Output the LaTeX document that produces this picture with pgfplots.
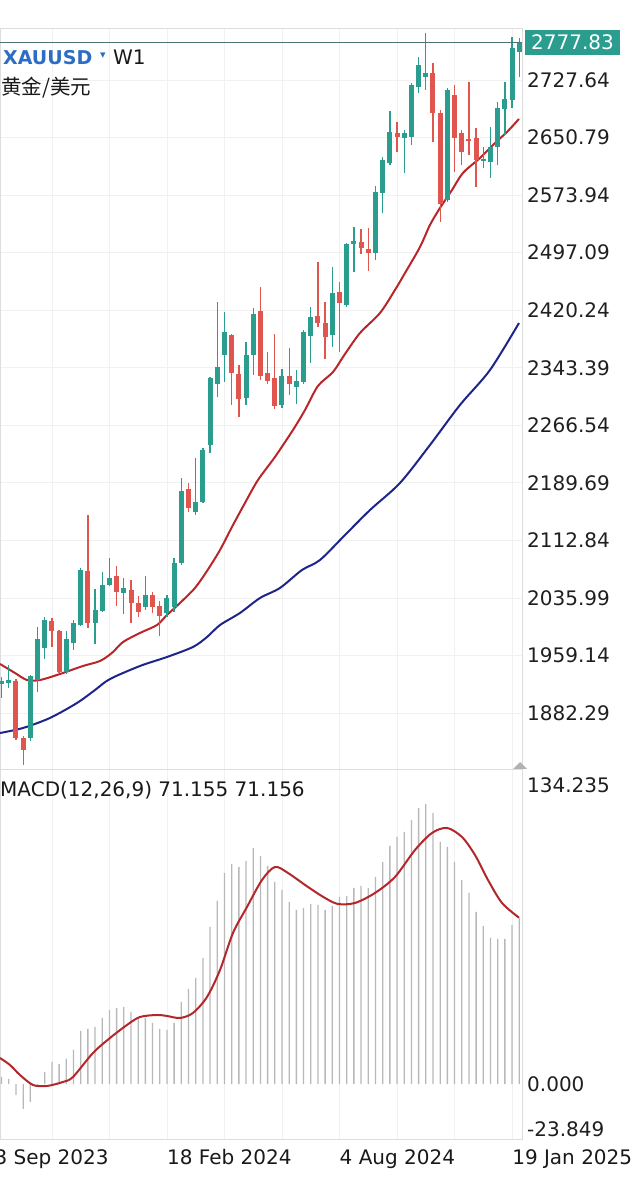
\documentclass[border=0pt]{standalone}
\usepackage{pgfplots}
\pgfplotsset{compat=1.18}
\usepackage{pgfplotstable}
\usepackage{fontspec}
\setmainfont{DejaVu Sans}
\newfontfamily\cjk{Noto Sans CJK SC}
\definecolor{bull}{HTML}{2B9D8F}
\definecolor{bear}{HTML}{E0554D}
\definecolor{maRed}{HTML}{B8262A}
\definecolor{maBlue}{HTML}{1D2688}
\definecolor{sig}{HTML}{B3262A}
\definecolor{hist}{HTML}{B8B8B8}
\definecolor{pline}{HTML}{4A7573}
\definecolor{sym}{HTML}{2B6CC4}
\definecolor{frame}{HTML}{DDDDDD}
\definecolor{gridc}{HTML}{F1F1F1}

% weekly candles, x = week index (0 = 10 Sep 2023)
\pgfplotstableread{
x o h l c
0 1921.1 1930.4 1902.4 1925.1
1 1922.4 1946.4 1915.7 1926.4
4 1848.9 1933.1 1844.9 1931.7
5 1926.4 1997.2 1910.4 1981.2
6 1969.1 2010.5 1954.4 2006.5
9 1937.1 1991.8 1934.4 1981.2
10 1975.8 2006.5 1966.5 2002.5
11 1999.8 2076.0 1998.5 2073.3
13 2002.5 2047.9 1974.5 2019.9
14 2018.5 2070.6 2017.2 2053.3
15 2053.3 2089.3 2051.9 2062.6
17 2042.6 2062.6 2014.5 2049.3
20 2023.9 2065.3 2019.9 2039.9
23 2015.9 2039.9 2010.5 2035.9
24 2023.9 2089.3 2017.2 2082.6
25 2082.6 2196.2 2080.0 2178.8
27 2150.8 2222.9 2146.7 2164.1
28 2164.1 2236.2 2162.8 2233.5
29 2240.2 2331.0 2229.5 2329.7
30 2321.7 2431.2 2304.3 2344.4
31 2360.4 2417.8 2324.4 2391.1
34 2303.0 2377.8 2293.6 2360.4
35 2360.4 2423.2 2333.7 2415.2
39 2293.6 2341.7 2289.6 2332.4
41 2317.7 2340.4 2295.0 2325.7
42 2324.4 2393.8 2321.7 2391.1
43 2385.8 2424.5 2349.7 2411.2
46 2387.1 2477.9 2371.1 2443.2
48 2427.2 2510.0 2424.5 2508.6
49 2508.6 2531.3 2471.2 2512.6
52 2496.6 2586.1 2487.3 2578.1
53 2576.7 2624.8 2550.0 2620.8
54 2616.8 2686.2 2614.1 2658.2
56 2650.2 2660.9 2603.5 2656.9
57 2651.5 2723.6 2640.8 2721.0
58 2718.3 2758.4 2710.3 2747.7
59 2731.6 2790.4 2714.3 2737.0
62 2567.4 2717.0 2564.7 2714.3
67 2619.5 2638.2 2610.1 2622.1
68 2618.1 2664.9 2596.8 2638.2
69 2638.2 2698.3 2614.1 2690.3
70 2688.9 2725.0 2654.2 2702.3
71 2700.9 2785.1 2690.3 2770.4
72 2765.0 2783.7 2731.6 2777.83
}\bulltab

\pgfplotstableread{
x o h l c
2 1925.1 1927.7 1846.3 1848.9
3 1848.9 1851.6 1812.9 1832.9
7 2005.2 2009.2 1970.5 1991.8
8 1991.8 1993.2 1935.8 1937.1
12 2072.0 2146.7 1995.8 2002.5
16 2065.3 2078.6 2025.2 2043.9
18 2046.6 2059.9 2002.5 2029.2
19 2029.2 2038.6 2010.5 2017.2
21 2039.9 2043.9 2015.9 2023.9
22 2025.2 2031.9 1985.2 2011.9
26 2181.5 2189.5 2150.8 2156.1
32 2387.1 2388.5 2293.6 2336.4
33 2335.0 2347.1 2277.6 2301.7
36 2419.2 2451.2 2327.0 2332.4
37 2336.4 2364.4 2321.7 2325.7
38 2329.7 2388.5 2288.3 2292.3
40 2332.4 2369.8 2307.0 2321.7
44 2412.5 2484.6 2397.8 2403.1
45 2403.1 2431.2 2355.1 2384.4
47 2444.5 2457.9 2364.4 2429.8
50 2511.3 2528.7 2495.3 2503.3
51 2502.0 2530.0 2472.6 2496.6
55 2656.9 2671.6 2631.5 2651.5
60 2737.0 2750.3 2644.8 2683.6
61 2683.6 2687.6 2538.0 2562.1
63 2707.6 2721.0 2604.8 2650.2
64 2656.9 2660.9 2614.1 2631.5
65 2648.9 2725.0 2627.5 2646.2
66 2650.2 2663.5 2584.8 2620.8
}\beartab

\pgfplotstableread{
x y
-0.22 1947.8
1.86 1935.8
3.53 1926.4
5.34 1926.4
8.12 1934.4
11.32 1945.1
13.69 1951.8
15.40 1963.0
16.89 1977.1
19.25 1989.2
21.61 1999.8
23.0 2013.2
24.81 2029.2
26.90 2049.3
28.57 2072.0
30.38 2100.0
32.04 2130.7
33.85 2162.8
35.66 2193.5
38.02 2224.2
40.53 2260.3
42.20 2287.0
44.0 2319.0
46.09 2337.7
47.76 2361.7
49.85 2389.8
52.63 2416.5
54.71 2447.2
56.11 2469.9
58.19 2504.6
59.58 2534.0
60.97 2556.7
62.64 2580.7
64.17 2603.5
66.54 2623.5
68.62 2643.5
70.29 2658.2
71.96 2675.6
}\maredtab

\pgfplotstableread{
x y
-0.22 1855.6
2.98 1862.3
6.73 1875.7
10.49 1895.7
12.99 1913.0
15.08 1927.7
19.25 1945.1
23.0 1957.1
26.62 1970.5
28.57 1983.8
30.38 1999.8
33.16 2015.9
35.94 2035.9
38.72 2049.3
41.78 2073.3
44.28 2086.6
47.76 2120.0
51.24 2153.4
55.41 2189.5
59.58 2240.2
63.75 2293.6
67.93 2340.4
71.96 2403.1
}\mabluetab

\pgfplotstableread{
x v
0 3.08
1 2.22
2 -4.61
3 -10.60
4 -7.61
5 -1.0
6 5.21
7 9.48
8 8.63
9 10.77
10 14.61
11 22.73
12 23.58
13 24.44
14 28.28
15 31.70
16 32.56
17 32.98
18 30.85
19 28.71
20 28.28
21 26.15
22 23.58
23 23.16
24 26.15
25 35.12
26 40.68
27 45.37
28 53.92
29 67.16
30 78.27
31 90.24
32 94.08
33 92.80
34 95.36
35 100.92
36 97.50
37 93.23
38 86.39
39 82.97
40 77.85
41 74.43
42 75.28
43 76.99
44 76.56
45 74.43
46 76.14
47 79.98
48 80.41
49 83.83
50 84.68
51 83.83
52 88.53
53 94.94
54 101.77
55 105.62
56 107.76
57 112.88
58 118.01
59 119.72
60 115.88
61 103.48
62 101.35
63 94.94
64 87.25
65 81.69
66 73.57
67 67.59
68 62.46
69 62.04
70 62.04
71 68.02
72 71.155
}\histtab

\pgfplotstableread{
x y
-0.22 11.19
1.17 8.20
2.56 3.93
4.37 -0.34
6.31 -0.77
8.54 0.94
9.93 3.08
12.71 13.33
15.08 19.74
17.44 25.30
19.25 28.71
21.61 29.57
23.0 29.14
24.81 28.28
26.62 30.42
28.57 37.26
30.38 48.79
32.18 64.60
34.13 75.71
36.22 87.25
38.02 92.80
39.83 90.24
42.61 84.26
44.98 79.56
46.79 76.99
49.15 77.42
51.93 81.69
54.71 88.53
57.50 100.07
59.86 107.33
61.95 109.47
64.03 105.62
65.84 97.93
67.65 87.25
69.60 77.42
71.96 71.156
}\sigtab

\pgfplotsset{
  chartbase/.style={
    scale only axis, width=522pt, xmin=-0.22, xmax=72.38,
    axis line style={draw=frame, line width=1pt},
    xtick={7,15,...,71}, xticklabels={{},{},{},{},{},{},{},{},{}},
    tick style={draw=none},
    yticklabel pos=right,
    yticklabel style={anchor=west, inner sep=0pt, xshift=5pt,
      font=\fontsize{20}{24}\selectfont, text=black!88},
    major grid style={draw=gridc, line width=0.8pt},
  },
  wick/.style={draw=none, error bars/.cd, y dir=both, y explicit, error mark=none,
    error bar style={draw=#1, line width=1.3pt}},
  body/.style={draw=none, error bars/.cd, y dir=both, y explicit, error mark=none,
    error bar style={draw=#1, line width=5pt}},
}

\begin{document}
\begin{tikzpicture}
% ---------------- price panel ----------------
\begin{axis}[chartbase, at={(0pt,414pt)}, anchor=south west, height=741pt,
  ymin=1806.21, ymax=2795.74, grid=major,
  ytick={1882.29,1959.14,2035.99,2112.84,2189.69,2266.54,2343.39,2420.24,2497.09,2573.94,2650.79,2727.64},
  yticklabels={1882.29,1959.14,2035.99,2112.84,2189.69,2266.54,2343.39,2420.24,2497.09,2573.94,2650.79,2727.64}]
\addplot[draw=maBlue, line width=2pt, smooth] table[x=x,y=y] {\mabluetab};
\addplot[draw=maRed, line width=2pt, smooth] table[x=x,y=y] {\maredtab};
\addplot[wick=bull] table[x=x, y expr={(\thisrow{h}+\thisrow{l})/2}, y error expr={(\thisrow{h}-\thisrow{l})/2}] {\bulltab};
\addplot[wick=bear] table[x=x, y expr={(\thisrow{h}+\thisrow{l})/2}, y error expr={(\thisrow{h}-\thisrow{l})/2}] {\beartab};
\addplot[body=bull] table[x=x, y expr={(\thisrow{o}+\thisrow{c})/2}, y error expr={max(abs(\thisrow{c}-\thisrow{o})/2,0.9)}] {\bulltab};
\addplot[body=bear] table[x=x, y expr={(\thisrow{o}+\thisrow{c})/2}, y error expr={max(abs(\thisrow{c}-\thisrow{o})/2,0.9)}] {\beartab};
\addplot[draw=pline, line width=1.5pt] coordinates {(-0.22,2777.83) (72.38,2777.83)};
\coordinate (plabel) at (axis cs:72.38,2777.83);
\end{axis}
% ---------------- MACD panel ----------------
\begin{axis}[chartbase, at={(0pt,44pt)}, anchor=south west, height=370pt,
  ymin=-23.849, ymax=134.235, xmajorgrids,
  ytick={0}, yticklabels={0.000}]
\addplot[ybar, bar width=1.3pt, fill=hist, draw=none] table[x=x,y=v] {\histtab};
\addplot[draw=sig, line width=2pt, smooth] table[x=x,y=y] {\sigtab};
\coordinate (d1) at (axis cs:-1,-23.849);
\coordinate (d2) at (axis cs:23,-23.849);
\coordinate (d3) at (axis cs:47,-23.849);
\coordinate (d4) at (axis cs:71,-23.849);
\coordinate (mtop) at (axis cs:72.38,134.235);
\coordinate (mbot) at (axis cs:72.38,-23.849);
\end{axis}
% ---------------- labels ----------------
\node[anchor=west, fill=bull, text=white, inner xsep=6pt, inner ysep=5pt,
  font=\fontsize{20}{24}\selectfont, xshift=3pt] at (plabel) {2777.83};
\node[anchor=base west, inner sep=0pt, text=sym, font=\bfseries\fontsize{19}{22}\selectfont]
  at (3pt,1119pt) {XAUUSD};
\node[anchor=base west, inner sep=0pt, text=sym, font=\fontsize{11}{12}\selectfont]
  at (100pt,1125pt) {▾};
\node[anchor=base west, inner sep=0pt, text=black!90, font=\fontsize{20}{24}\selectfont]
  at (113pt,1119pt) {W1};
\node[anchor=base west, inner sep=0pt, text=black!90, font=\cjk\fontsize{20.5}{24}\selectfont]
  at (1pt,1089pt) {黄金/美元};
\node[anchor=west, inner sep=0pt, text=black!90, font=\fontsize{20}{24}\selectfont]
  at (0pt,394pt) {MACD(12,26,9) 71.155 71.156};
\node[anchor=north west, inner sep=0pt, text=black!88, font=\fontsize{20}{24}\selectfont,
  xshift=5pt, yshift=-7pt] at (mtop) {134.235};
\node[anchor=south west, inner sep=0pt, text=black!88, font=\fontsize{20}{24}\selectfont,
  xshift=5pt, yshift=3pt] at (mbot) {-23.849};
\fill[gray!60] (513pt,415pt) -- (527pt,415pt) -- (520pt,422pt) -- cycle;
\foreach \c/\t in {d1/3 Sep 2023, d2/18 Feb 2024, d3/4 Aug 2024, d4/19 Jan 2025}
  \node[anchor=north west, inner sep=0pt, text=black!90, font=\fontsize{20}{24}\selectfont,
    yshift=-9pt] at (\c) {\t};
\pgfresetboundingbox
\path[use as bounding box] (0pt,0pt) rectangle (640pt,1184pt);
\end{tikzpicture}
\end{document}
